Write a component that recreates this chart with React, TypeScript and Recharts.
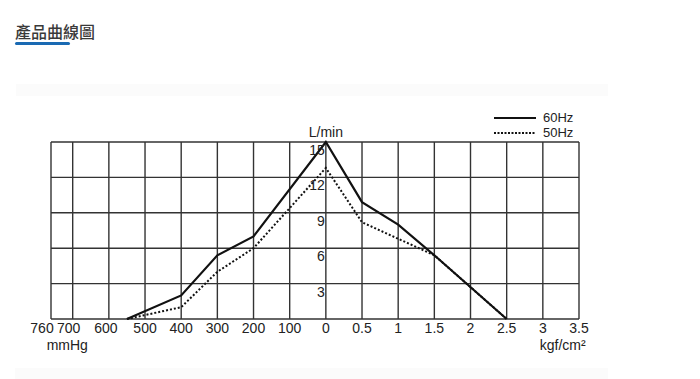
import { LineChart, Line, XAxis, YAxis, CartesianGrid, ReferenceDot, Legend } from 'recharts'

// vacuum side (mmHg) and pressure side (kgf/cm2) share one horizontal axis
const vacuumPts = [550, 400, 300, 200]
const flow60Vac = [0, 2.0, 5.4, 7.0]
const flow50Vac = [0, 1.0, 4.0, 6.0]
const peak60 = 15
const peak50 = 12.8
const pressurePts = [0.5, 1, 1.5, 2.5]
const flow60Pres = [9.9, 8.0, 5.4, 0]
const flow50Pres = [8.2, 6.8, 5.4, 0]

const xTickPos = [-7.6, -7, -6, -5, -4, -3, -2, -1, 0, 1, 2, 3, 4, 5, 6, 7]
const xTickLabels = ['760', '700', '600', '500', '400', '300', '200', '100', '0', '0.5', '1', '1.5', '2', '2.5', '3', '3.5']
const yTicks = [0, 3, 6, 9, 12, 15]
const yLabels = [3, 6, 9, 12, 15]

const vacToX = (v: number) => -v / 100
const presToX = (p: number) => p * 2

const chartData = [
  ...vacuumPts.map((v, i) => ({ x: vacToX(v), f60: flow60Vac[i], f50: flow50Vac[i] })),
  { x: 0, f60: peak60, f50: peak50 },
  ...pressurePts.map((p, i) => ({ x: presToX(p), f60: flow60Pres[i], f50: flow50Pres[i] })),
]

const FONT = '"Liberation Sans", Arial, sans-serif'
const INK = '#222'

const XTick = (props: any) => {
  const { x, y, payload } = props
  const idx = xTickPos.indexOf(payload.value)
  const shift = payload.value === -7.6 ? -9 : payload.value === -7 ? -4 : payload.value === -6 ? -3 : 0
  return (
    <text x={x + shift} y={y} dy={14} textAnchor="middle" fontSize={14} fontFamily={FONT} fill={INK}>
      {xTickLabels[idx]}
    </text>
  )
}

const yLabelContent = (v: number) => (props: any) => {
  const { viewBox } = props
  return (
    <text x={viewBox.x - 1} y={viewBox.y + 13} textAnchor="end" fontSize={14} fontFamily={FONT} fill={INK}>
      {v}
    </text>
  )
}

const unitContent = (text: string, dy: number) => (props: any) => {
  const { viewBox } = props
  return (
    <text x={viewBox.x} y={viewBox.y + dy} textAnchor="middle" fontSize={14} fontFamily={FONT} fill={INK}>
      {text}
    </text>
  )
}

const LegendBox = () => (
  <div style={{ fontFamily: FONT, fontSize: 13, color: INK, lineHeight: '15px' }}>
    <div style={{ display: 'flex', alignItems: 'center', height: 15 }}>
      <svg width={49} height={4}><line x1={0} y1={2} x2={42} y2={2} stroke="#111" strokeWidth={2} /></svg>
      <span>60Hz</span>
    </div>
    <div style={{ display: 'flex', alignItems: 'center', height: 15 }}>
      <svg width={49} height={4}><line x1={0} y1={2} x2={42} y2={2} stroke="#111" strokeWidth={2} strokeDasharray="2 1.5" /></svg>
      <span>50Hz</span>
    </div>
  </div>
)

export default function App() {
  return (
    <div style={{ position: 'absolute', left: 0, top: 0, width: 700, height: 379, background: '#fff', overflow: 'hidden' }}>
      <div style={{ position: 'absolute', left: 15, top: 19, fontFamily: '"Noto Sans CJK TC", sans-serif', fontSize: 16, fontWeight: 500, color: '#3a3a3a' }}>
        產品曲線圖
      </div>
      <div style={{ position: 'absolute', left: 15, top: 42, width: 55, height: 3, borderRadius: 2, background: '#1a6ab3' }} />
      <div style={{ position: 'absolute', left: 16, top: 84, width: 592, height: 12, background: '#fbfbfb' }} />
      <div style={{ position: 'absolute', left: 15, top: 368, width: 593, height: 11, background: '#fbfbfb' }} />
      <div style={{ position: 'absolute', left: 0, top: 0 }}>
        <LineChart width={700} height={379} data={chartData} margin={{ top: 142, right: 121, bottom: 30, left: 51 }}>
          <CartesianGrid stroke="#333" strokeWidth={1.4} />
          <XAxis
            dataKey="x"
            type="number"
            domain={[-7.6, 7]}
            ticks={xTickPos}
            interval={0}
            axisLine={false}
            tickLine={false}
            tickSize={0}
            tickMargin={0}
            height={30}
            tick={<XTick />}
          />
          <YAxis hide type="number" domain={[0, 15]} ticks={yTicks} />
          {yLabels.map((v) => (
            <ReferenceDot key={v} x={0} y={v} r={0} fill="none" stroke="none" label={{ content: yLabelContent(v) }} />
          ))}
          <ReferenceDot x={0} y={15} r={0} fill="none" stroke="none" label={{ content: unitContent('L/min', -5) }} />
          <ReferenceDot x={-7.15} y={0} r={0} fill="none" stroke="none" label={{ content: unitContent('mmHg', 31) }} />
          <ReferenceDot x={6.55} y={0} r={0} fill="none" stroke="none" label={{ content: unitContent('kgf/cm²', 31) }} />
          <Legend
            layout="vertical"
            align="center"
            verticalAlign="middle"
            content={<LegendBox />}
            wrapperStyle={{ left: 494, top: 110, width: 100 }}
          />
          <Line type="linear" dataKey="f60" stroke="#111" strokeWidth={2.2} dot={false} isAnimationActive={false} />
          <Line type="linear" dataKey="f50" stroke="#111" strokeWidth={2} strokeDasharray="2 2" dot={false} isAnimationActive={false} />
        </LineChart>
      </div>
    </div>
  )
}
